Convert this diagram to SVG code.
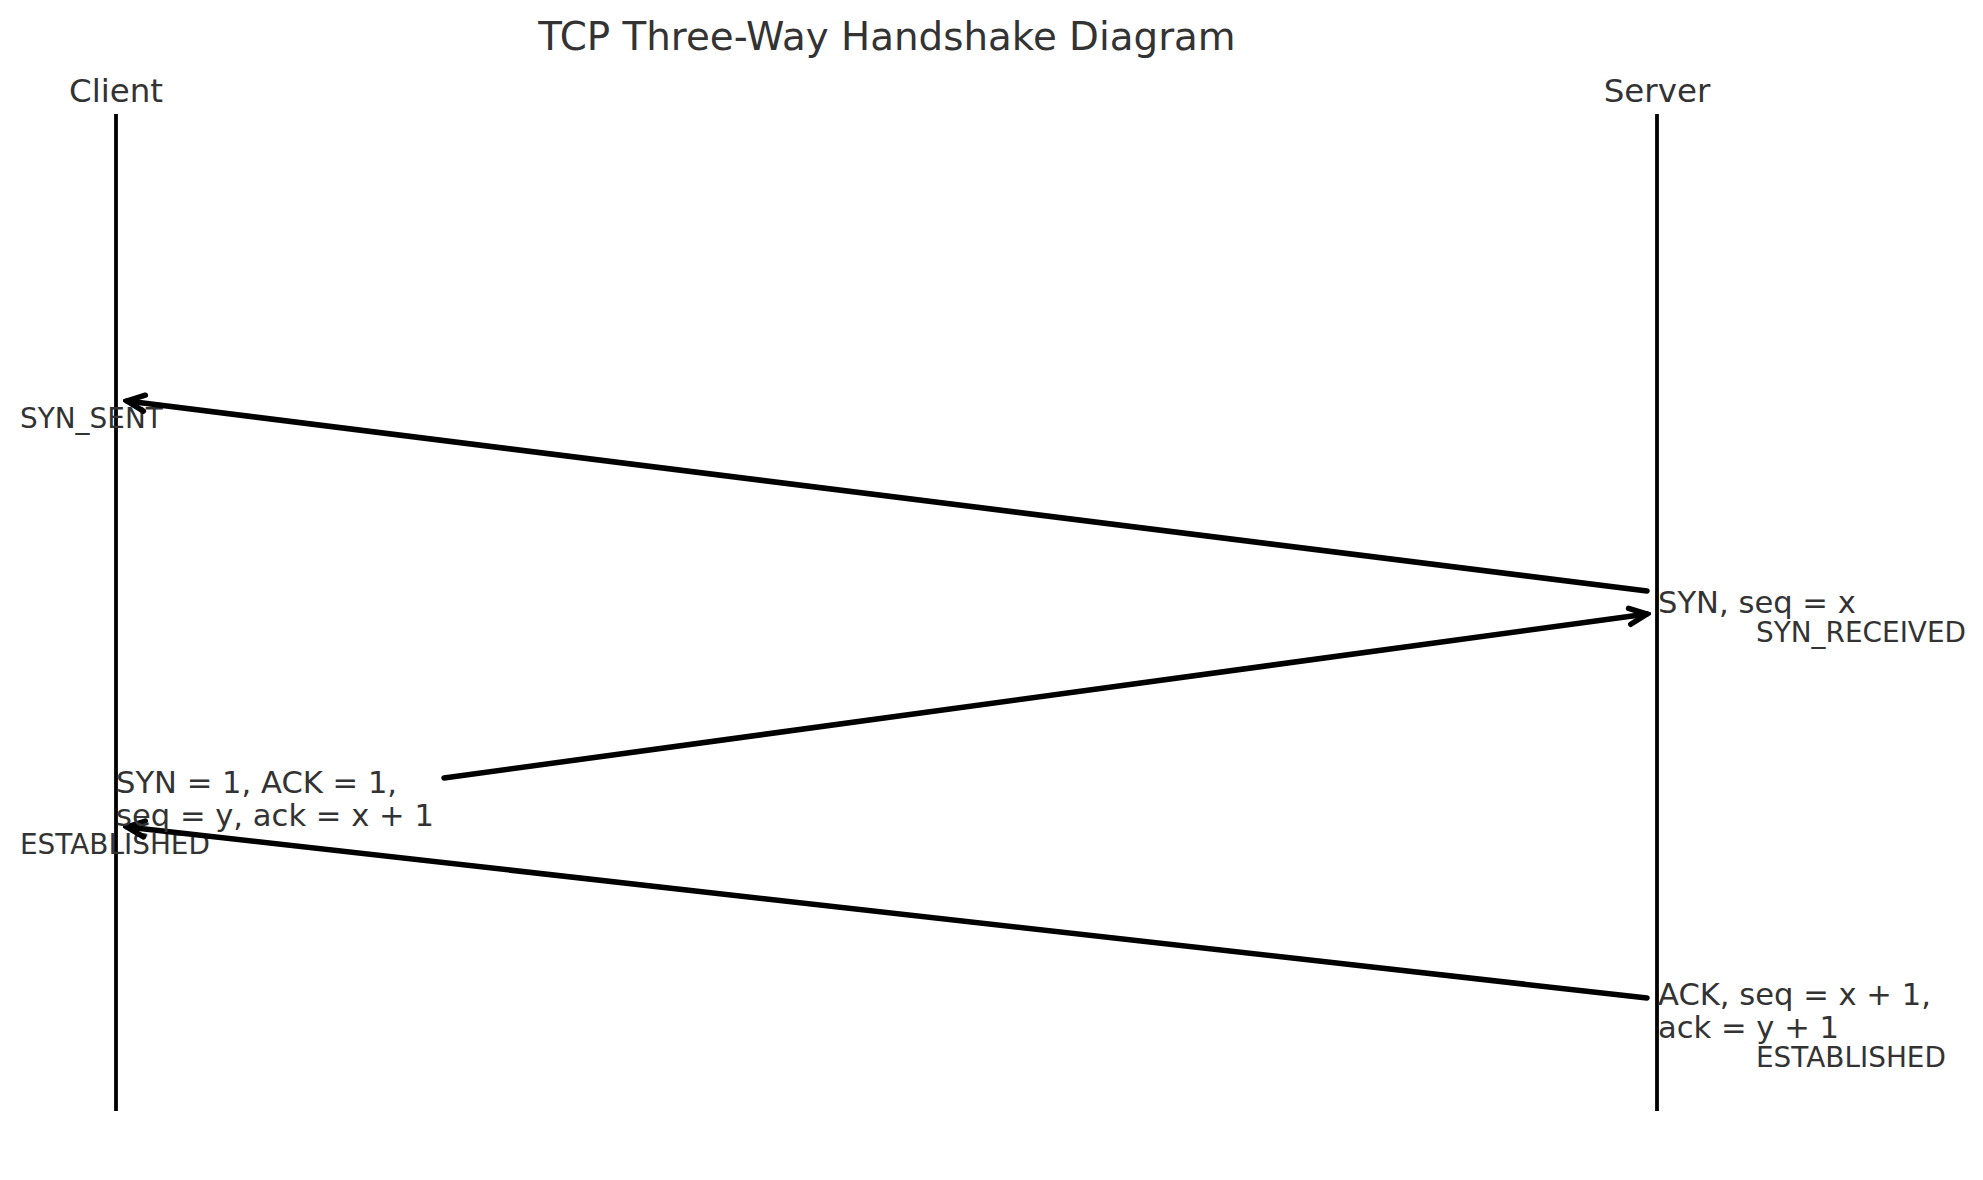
<svg xmlns="http://www.w3.org/2000/svg" width="1983" height="1180" viewBox="0 0 1983 1180">
  <style>
    text { font-family: "DejaVu Sans", sans-serif; fill: #333333; }
    .title { font-size: 38.8px; }
    .actor { font-size: 32.5px; }
    .msg { font-size: 30.6px; }
    .state { font-size: 27.9px; }
    .life { stroke: #000; stroke-width: 3.8; }
    .arrow { stroke: #000; stroke-width: 5.5; fill: none; stroke-linecap: round; marker-end: url(#head); }
  </style>
  <defs>
    <marker id="head" markerUnits="userSpaceOnUse" viewBox="-24 -14 28 28" refX="0" refY="0" markerWidth="28" markerHeight="28" orient="auto">
      <path d="M -17.5 -8 L 0 0 L -17.5 8" fill="none" stroke="#000" stroke-width="5.5" stroke-linecap="round" stroke-linejoin="miter"/>
    </marker>
  </defs>
  <rect width="1983" height="1180" fill="#ffffff"/>
  <text class="title" x="887" y="50" text-anchor="middle">TCP Three-Way Handshake Diagram</text>

  <g id="client">
    <text class="actor" x="116" y="102" text-anchor="middle">Client</text>
    <line class="life" x1="116" y1="114" x2="116" y2="1111"/>
    <text class="state" x="20" y="428">SYN_SENT</text>
    <text class="state" x="20" y="854">ESTABLISHED</text>
  </g>

  <g id="server">
    <text class="actor" x="1657" y="102" text-anchor="middle">Server</text>
    <line class="life" x1="1657" y1="114" x2="1657" y2="1111"/>
    <text class="state" x="1756" y="642">SYN_RECEIVED</text>
    <text class="state" x="1756" y="1067">ESTABLISHED</text>
  </g>

  <g id="connectors">
    <line class="arrow" x1="1647" y1="591" x2="127" y2="401"/>
    <line class="arrow" x1="444" y1="778" x2="1647" y2="614"/>
    <line class="arrow" x1="1647" y1="998" x2="127" y2="827"/>
  </g>

  <g id="labels">
    <text class="msg" x="1658" y="613">SYN, seq = x</text>
    <text class="msg" x="116" y="793">SYN = 1, ACK = 1,</text>
    <text class="msg" x="116" y="826">seq = y, ack = x + 1</text>
    <text class="msg" x="1658" y="1005">ACK, seq = x + 1,</text>
    <text class="msg" x="1658" y="1038">ack = y + 1</text>
  </g>
</svg>
